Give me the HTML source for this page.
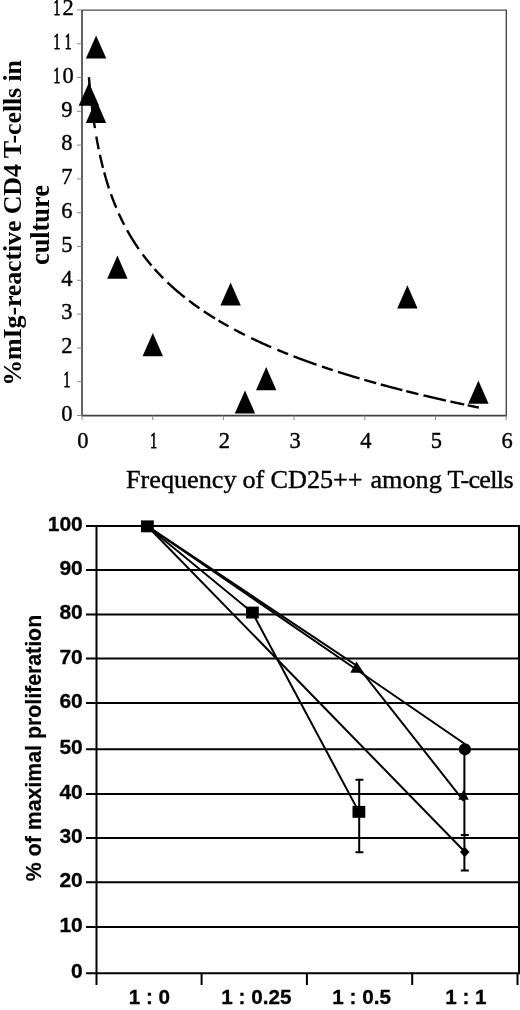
<!DOCTYPE html><html><head><meta charset="utf-8"><style>html,body{margin:0;padding:0;background:#fff;}svg{display:block;will-change:transform;}.s{font-family:"Liberation Serif",serif}.a{font-family:"Liberation Sans",sans-serif}</style></head><body>
<svg width="520" height="1010" viewBox="0 0 520 1010">
<rect width="520" height="1010" fill="#fff"/>
<path d="M82 10.1H506.3V415.5" fill="none" stroke="#4a4a4a" stroke-width="1.4"/>
<path d="M82 10.1V415.5" fill="none" stroke="#3c3c3c" stroke-width="1.6"/><path d="M81.2 415.7H506.9" fill="none" stroke="#404040" stroke-width="1.8"/>
<path d="M77 415.5H82 M77 381.7H82 M77 347.9H82 M77 314.1H82 M77 280.3H82 M77 246.5H82 M77 212.7H82 M77 178.9H82 M77 145.1H82 M77 111.3H82 M77 77.5H82 M77 43.7H82 M77 9.9H82 M82.0 415.5V420 M152.7 415.5V420 M223.4 415.5V420 M294.1 415.5V420 M364.8 415.5V420 M435.5 415.5V420 M506.2 415.5V420" stroke="#888" stroke-width="1" fill="none"/>
<text transform="translate(66.97,420.80) scale(1,1.07)" text-anchor="middle" class="s" font-size="22.5" stroke="#000" stroke-width="0.4">0</text>
<text transform="translate(66.97,387.00) scale(0.6,1.07)" text-anchor="middle" class="s" font-size="22.5" stroke="#000" stroke-width="0.9">1</text>
<text transform="translate(66.97,353.20) scale(1,1.07)" text-anchor="middle" class="s" font-size="22.5" stroke="#000" stroke-width="0.4">2</text>
<text transform="translate(66.97,319.40) scale(1,1.07)" text-anchor="middle" class="s" font-size="22.5" stroke="#000" stroke-width="0.4">3</text>
<text transform="translate(66.97,285.60) scale(1,1.07)" text-anchor="middle" class="s" font-size="22.5" stroke="#000" stroke-width="0.4">4</text>
<text transform="translate(66.97,251.80) scale(1,1.07)" text-anchor="middle" class="s" font-size="22.5" stroke="#000" stroke-width="0.4">5</text>
<text transform="translate(66.97,218.00) scale(1,1.07)" text-anchor="middle" class="s" font-size="22.5" stroke="#000" stroke-width="0.4">6</text>
<text transform="translate(66.97,184.20) scale(1,1.07)" text-anchor="middle" class="s" font-size="22.5" stroke="#000" stroke-width="0.4">7</text>
<text transform="translate(66.97,150.40) scale(1,1.07)" text-anchor="middle" class="s" font-size="22.5" stroke="#000" stroke-width="0.4">8</text>
<text transform="translate(66.97,116.60) scale(1,1.07)" text-anchor="middle" class="s" font-size="22.5" stroke="#000" stroke-width="0.4">9</text>
<text transform="translate(56.92,82.80) scale(0.6,1.07)" text-anchor="middle" class="s" font-size="22.5" stroke="#000" stroke-width="0.9">1</text>
<text transform="translate(68.17,82.80) scale(1,1.07)" text-anchor="middle" class="s" font-size="22.5" stroke="#000" stroke-width="0.4">0</text>
<text transform="translate(56.92,49.00) scale(0.6,1.07)" text-anchor="middle" class="s" font-size="22.5" stroke="#000" stroke-width="0.9">1</text>
<text transform="translate(68.17,49.00) scale(0.6,1.07)" text-anchor="middle" class="s" font-size="22.5" stroke="#000" stroke-width="0.9">1</text>
<text transform="translate(56.92,15.20) scale(0.6,1.07)" text-anchor="middle" class="s" font-size="22.5" stroke="#000" stroke-width="0.9">1</text>
<text transform="translate(68.17,15.20) scale(1,1.07)" text-anchor="middle" class="s" font-size="22.5" stroke="#000" stroke-width="0.4">2</text>
<text transform="translate(83.00,448.40) scale(1,1.07)" text-anchor="middle" class="s" font-size="22.5" stroke="#000" stroke-width="0.4">0</text>
<text transform="translate(153.70,448.40) scale(0.6,1.07)" text-anchor="middle" class="s" font-size="22.5" stroke="#000" stroke-width="0.9">1</text>
<text transform="translate(224.40,448.40) scale(1,1.07)" text-anchor="middle" class="s" font-size="22.5" stroke="#000" stroke-width="0.4">2</text>
<text transform="translate(295.10,448.40) scale(1,1.07)" text-anchor="middle" class="s" font-size="22.5" stroke="#000" stroke-width="0.4">3</text>
<text transform="translate(365.80,448.40) scale(1,1.07)" text-anchor="middle" class="s" font-size="22.5" stroke="#000" stroke-width="0.4">4</text>
<text transform="translate(436.50,448.40) scale(1,1.07)" text-anchor="middle" class="s" font-size="22.5" stroke="#000" stroke-width="0.4">5</text>
<text transform="translate(507.20,448.40) scale(1,1.07)" text-anchor="middle" class="s" font-size="22.5" stroke="#000" stroke-width="0.4">6</text>
<text x="126" y="487.5" class="s" font-size="26.2" letter-spacing="0" stroke="#000" stroke-width="0.4">Frequency</text>
<text x="242.5" y="487.5" class="s" font-size="26.2" letter-spacing="0" stroke="#000" stroke-width="0.4">of</text>
<text x="270.5" y="487.5" class="s" font-size="26.2" letter-spacing="0" stroke="#000" stroke-width="0.4">CD25++</text>
<text x="370.5" y="487.5" class="s" font-size="26.2" letter-spacing="0" stroke="#000" stroke-width="0.4">among</text>
<text x="447.5" y="487.5" class="s" font-size="26.2" letter-spacing="-0.7" stroke="#000" stroke-width="0.4">T-cells</text>
<text transform="translate(21,223) rotate(-90)" text-anchor="middle" class="s" font-weight="bold" font-size="26" letter-spacing="-0.14">%mIg-reactive CD4 T-cells in</text>
<text transform="translate(48.5,225.1) rotate(-90)" text-anchor="middle" class="s" font-weight="bold" font-size="26.3">culture</text>
<path d="M88.90 77.09L89.27 81.35L89.66 85.60L90.07 89.85L90.50 94.11L90.96 98.36L91.43 102.61L91.94 106.86L92.47 111.12L93.03 115.37L93.62 119.62L94.24 123.88L94.90 128.13M96.30 136.53L96.87 139.70L97.45 142.86L98.06 146.02L98.70 149.19M99.90 154.85L100.38 157.02L100.88 159.19L101.39 161.36L101.91 163.53L102.45 165.71L103.00 167.88M104.20 172.41L104.69 174.18L105.19 175.96L105.70 177.73L106.22 179.51L106.75 181.28L107.29 183.05L107.85 184.83L108.42 186.60L109.00 188.38M111.00 194.20L111.49 195.56L111.98 196.92L112.48 198.28L113.00 199.63L113.52 200.99L114.04 202.35L114.58 203.70L115.13 205.06L115.68 206.42L116.25 207.78M118.70 213.41L119.17 214.45L119.64 215.48L120.12 216.52L120.61 217.55L121.11 218.59L121.60 219.62L122.11 220.66L122.62 221.69L123.14 222.73L123.67 223.77L124.20 224.80M127.10 230.22L127.55 231.04L128.01 231.86L128.48 232.68L128.95 233.49L129.42 234.31L129.90 235.13L130.38 235.95L130.87 236.77L131.36 237.58L131.86 238.40L132.36 239.22L132.87 240.04L133.38 240.86L133.90 241.67L134.42 242.49L134.95 243.31L135.48 244.13L136.02 244.95L136.57 245.76L137.12 246.58L137.67 247.40L138.23 248.22L138.80 249.04M142.70 254.45L143.19 255.10L143.67 255.75L144.17 256.40L144.66 257.05L145.17 257.70L145.67 258.35L146.18 259.00L146.69 259.65L147.21 260.30L147.73 260.95L148.26 261.60L148.79 262.25L149.32 262.90L149.86 263.55L150.40 264.20L150.95 264.85L151.50 265.50M154.50 268.94L154.98 269.49L155.47 270.03L155.96 270.57L156.46 271.12L156.96 271.66L157.46 272.20L157.96 272.75L158.47 273.29L158.98 273.84L159.50 274.38L160.02 274.92L160.54 275.47L161.06 276.01L161.59 276.55L162.12 277.10L162.66 277.64L163.20 278.19M167.50 282.39L167.96 282.84L168.43 283.28L168.90 283.72L169.37 284.16L169.85 284.61L170.33 285.05L170.81 285.49L171.29 285.93L171.77 286.37L172.26 286.82L172.75 287.26L173.25 287.70L173.74 288.14L174.24 288.58L174.74 289.03L175.25 289.47L175.75 289.91L176.26 290.35L176.77 290.79L177.29 291.24L177.81 291.68L178.33 292.12L178.85 292.56L179.38 293.00L179.91 293.45L180.44 293.89L180.97 294.33L181.51 294.77L182.05 295.21L182.60 295.66L183.14 296.10L183.69 296.54L184.24 296.98L184.80 297.42M189.10 300.77L189.60 301.15L190.10 301.52L190.60 301.90L191.10 302.28L191.61 302.66L192.12 303.04L192.63 303.41L193.14 303.79L193.66 304.17L194.18 304.55L194.70 304.92L195.22 305.30L195.75 305.68L196.28 306.06L196.81 306.44L197.34 306.81L197.88 307.19L198.42 307.57L198.96 307.95L199.50 308.33M203.80 311.26L204.29 311.58L204.78 311.91L205.27 312.24L205.76 312.56L206.26 312.89L206.76 313.22L207.26 313.54L207.76 313.87L208.26 314.19L208.77 314.52L209.28 314.85L209.79 315.17L210.30 315.50L210.81 315.82L211.33 316.15L211.85 316.48L212.37 316.80L212.89 317.13L213.41 317.46L213.94 317.78L214.47 318.11L215.00 318.43M218.50 320.55L218.98 320.84L219.47 321.13L219.96 321.42L220.44 321.71L220.93 321.99L221.43 322.28L221.92 322.57L222.42 322.86L222.91 323.15L223.41 323.44L223.91 323.72L224.41 324.01L224.92 324.30L225.43 324.59L225.93 324.88L226.44 325.17L226.95 325.45L227.47 325.74L227.98 326.03L228.50 326.32M234.20 329.43L234.70 329.70L235.20 329.96L235.70 330.23L236.20 330.50L236.70 330.76L237.21 331.03L237.72 331.30L238.23 331.56L238.74 331.83L239.25 332.10L239.76 332.36L240.28 332.63L240.80 332.89L241.32 333.16L241.84 333.43L242.36 333.69L242.89 333.96L243.41 334.23L243.94 334.49L244.47 334.76L245.00 335.02M251.20 338.07L251.67 338.30L252.15 338.52L252.62 338.75L253.10 338.98L253.58 339.21L254.06 339.44L254.54 339.66L255.02 339.89L255.51 340.12L255.99 340.35L256.48 340.58L256.97 340.80L257.46 341.03L257.95 341.26L258.44 341.49L258.93 341.71L259.43 341.94L259.92 342.17L260.42 342.40L260.92 342.63L261.42 342.85L261.92 343.08L262.43 343.31L262.93 343.54L263.44 343.76L263.94 343.99L264.45 344.22L264.96 344.45L265.48 344.68L265.99 344.90L266.50 345.13L267.02 345.36L267.54 345.59L268.06 345.82L268.58 346.04L269.10 346.27L269.62 346.50L270.15 346.73L270.67 346.95L271.20 347.18M277.30 349.77L277.80 349.98L278.30 350.19L278.81 350.40L279.31 350.61L279.82 350.82L280.33 351.02L280.84 351.23L281.35 351.44L281.86 351.65L282.37 351.86L282.88 352.07L283.40 352.28L283.92 352.49L284.44 352.70L284.95 352.91L285.48 353.12L286.00 353.32L286.52 353.53L287.05 353.74L287.57 353.95L288.10 354.16M293.50 356.27L293.98 356.45L294.45 356.64L294.93 356.82L295.41 357.00L295.89 357.19L296.37 357.37L296.85 357.55L297.33 357.73L297.82 357.92L298.30 358.10L298.79 358.28L299.27 358.47L299.76 358.65L300.25 358.83L300.74 359.02L301.23 359.20L301.72 359.38L302.22 359.56L302.71 359.75L303.21 359.93L303.71 360.11L304.20 360.30L304.70 360.48L305.20 360.66L305.71 360.85L306.21 361.03L306.71 361.21L307.22 361.40L307.72 361.58L308.23 361.76L308.74 361.94L309.25 362.13L309.76 362.31L310.27 362.49L310.78 362.68L311.30 362.86L311.81 363.04L312.33 363.23L312.85 363.41L313.36 363.59L313.88 363.77L314.40 363.96L314.93 364.14L315.45 364.32L315.97 364.51L316.50 364.69M321.90 366.55L322.40 366.72L322.91 366.89L323.41 367.06L323.92 367.23L324.43 367.40L324.94 367.57L325.45 367.74L325.96 367.92L326.47 368.09L326.98 368.26L327.50 368.43L328.01 368.60L328.53 368.77L329.05 368.94L329.57 369.11L330.09 369.28L330.61 369.45L331.13 369.63L331.65 369.80L332.17 369.97L332.70 370.14M338.00 371.85L338.48 372.00L338.96 372.15L339.44 372.30L339.93 372.46L340.41 372.61L340.90 372.76L341.38 372.92L341.87 373.07L342.36 373.22L342.85 373.38L343.34 373.53L343.83 373.68L344.32 373.83L344.81 373.99L345.30 374.14L345.80 374.29L346.29 374.45L346.79 374.60L347.29 374.75L347.78 374.90L348.28 375.06L348.78 375.21L349.28 375.36L349.79 375.52L350.29 375.67L350.79 375.82L351.30 375.98L351.80 376.13L352.31 376.28L352.82 376.43L353.32 376.59L353.83 376.74L354.34 376.89L354.86 377.05L355.37 377.20L355.88 377.35L356.39 377.51L356.91 377.66L357.43 377.81L357.94 377.96L358.46 378.12L358.98 378.27L359.50 378.42M364.30 379.82L364.81 379.97L365.32 380.11L365.82 380.26L366.33 380.41L366.85 380.55L367.36 380.70L367.87 380.85L368.38 380.99L368.90 381.14L369.41 381.29L369.93 381.43L370.45 381.58L370.97 381.73L371.48 381.87L372.01 382.02L372.53 382.16L373.05 382.31L373.57 382.46L374.09 382.60L374.62 382.75L375.15 382.90L375.67 383.04L376.20 383.19M380.80 384.46L381.28 384.59L381.77 384.72L382.25 384.85L382.74 384.98L383.22 385.11L383.71 385.25L384.20 385.38L384.69 385.51L385.18 385.64L385.67 385.77L386.16 385.91L386.65 386.04L387.14 386.17L387.64 386.30L388.13 386.43L388.63 386.56L389.12 386.70L389.62 386.83L390.12 386.96L390.61 387.09L391.11 387.22L391.61 387.35L392.11 387.49L392.62 387.62L393.12 387.75L393.62 387.88L394.12 388.01L394.63 388.15L395.14 388.28L395.64 388.41L396.15 388.54L396.66 388.67L397.17 388.80L397.68 388.94L398.19 389.07L398.70 389.20L399.21 389.33L399.72 389.46L400.24 389.60L400.75 389.73L401.27 389.86L401.78 389.99L402.30 390.12M406.20 391.11L406.70 391.24L407.20 391.36L407.70 391.49L408.20 391.61L408.70 391.74L409.21 391.86L409.71 391.99L410.22 392.11L410.72 392.24L411.23 392.37L411.74 392.49L412.24 392.62L412.75 392.74L413.26 392.87L413.77 392.99L414.28 393.12L414.79 393.24L415.31 393.37L415.82 393.50L416.34 393.62L416.85 393.75L417.37 393.87L417.88 394.00L418.40 394.12M423.50 395.35L423.98 395.47L424.47 395.58L424.96 395.70L425.44 395.81L425.93 395.93L426.42 396.04L426.91 396.16L427.40 396.28L427.89 396.39L428.38 396.51L428.87 396.62L429.36 396.74L429.85 396.85L430.35 396.97L430.84 397.09L431.34 397.20L431.83 397.32L432.33 397.43L432.83 397.55L433.32 397.66L433.82 397.78L434.32 397.89L434.82 398.01L435.32 398.13L435.82 398.24L436.32 398.36L436.83 398.47L437.33 398.59L437.84 398.70L438.34 398.82L438.85 398.94L439.35 399.05L439.86 399.17L440.37 399.28L440.88 399.40L441.38 399.51L441.89 399.63L442.41 399.75L442.92 399.86L443.43 399.98L443.94 400.09L444.45 400.21L444.97 400.32L445.48 400.44L446.00 400.55M450.40 401.53L450.90 401.65L451.40 401.76L451.91 401.87L452.41 401.98L452.92 402.09L453.42 402.20L453.93 402.31L454.44 402.42L454.94 402.53L455.45 402.65L455.96 402.76L456.47 402.87L456.98 402.98L457.49 403.09L458.00 403.20L458.52 403.31L459.03 403.42L459.54 403.53L460.06 403.65L460.57 403.76L461.09 403.87L461.61 403.98L462.12 404.09L462.64 404.20L463.16 404.31L463.68 404.42L464.20 404.53M467.70 405.28L468.20 405.38L468.70 405.49L469.20 405.59L469.69 405.70L470.20 405.80L470.70 405.91L471.20 406.01L471.70 406.12L472.20 406.22L472.71 406.33L473.21 406.43L473.72 406.54L474.22 406.65L474.73 406.75L475.23 406.86L475.74 406.96L476.25 407.07L476.76 407.17L477.27 407.28L477.78 407.38L478.29 407.49L478.80 407.59" fill="none" stroke="#000" stroke-width="2.4"/>
<path d="M96.1 35.4L106.3 58.6H85.9Z" fill="#000"/>
<path d="M88.9 82.5L99.1 105.7H78.7Z" fill="#000"/>
<path d="M96.0 99.8L106.2 123.0H85.8Z" fill="#000"/>
<path d="M117.4 255.5L127.6 278.7H107.2Z" fill="#000"/>
<path d="M152.8 333.0L163.0 356.2H142.6Z" fill="#000"/>
<path d="M230.6 282.4L240.8 305.6H220.4Z" fill="#000"/>
<path d="M245.0 390.4L255.2 413.6H234.8Z" fill="#000"/>
<path d="M266.2 367.0L276.4 390.2H256.0Z" fill="#000"/>
<path d="M407.4 285.3L417.6 308.5H397.2Z" fill="#000"/>
<path d="M478.4 380.6L488.6 403.8H468.2Z" fill="#000"/>
<path d="M86 526.1H519 M86 570.1H519 M86 614.4H519 M86 658.6H519 M86 703.1H519 M86 749.3H519 M86 794.0H519 M86 838.1H519 M86 882.3H519 M86 927.1H519 M86 973.3H519" stroke="#000" stroke-width="2" fill="none"/>
<path d="M96.5 526.1V985M519 525.1V974.3" stroke="#000" stroke-width="2" fill="none"/>
<path d="M201.6 973.3V985 M306.9 973.3V985 M412.2 973.3V985 M517.5 973.3V985" stroke="#000" stroke-width="2" fill="none"/>
<text x="82.8" y="531.1" text-anchor="end" class="a" font-weight="bold" font-size="21" stroke="#000" stroke-width="0.3">100</text>
<text x="82.8" y="575.1" text-anchor="end" class="a" font-weight="bold" font-size="21" stroke="#000" stroke-width="0.3">90</text>
<text x="82.8" y="619.4" text-anchor="end" class="a" font-weight="bold" font-size="21" stroke="#000" stroke-width="0.3">80</text>
<text x="82.8" y="663.6" text-anchor="end" class="a" font-weight="bold" font-size="21" stroke="#000" stroke-width="0.3">70</text>
<text x="82.8" y="708.1" text-anchor="end" class="a" font-weight="bold" font-size="21" stroke="#000" stroke-width="0.3">60</text>
<text x="82.8" y="754.3" text-anchor="end" class="a" font-weight="bold" font-size="21" stroke="#000" stroke-width="0.3">50</text>
<text x="82.8" y="799.0" text-anchor="end" class="a" font-weight="bold" font-size="21" stroke="#000" stroke-width="0.3">40</text>
<text x="82.8" y="843.1" text-anchor="end" class="a" font-weight="bold" font-size="21" stroke="#000" stroke-width="0.3">30</text>
<text x="82.8" y="887.3" text-anchor="end" class="a" font-weight="bold" font-size="21" stroke="#000" stroke-width="0.3">20</text>
<text x="82.8" y="932.1" text-anchor="end" class="a" font-weight="bold" font-size="21" stroke="#000" stroke-width="0.3">10</text>
<text x="82.8" y="978.3" text-anchor="end" class="a" font-weight="bold" font-size="21" stroke="#000" stroke-width="0.3">0</text>
<text x="149.4" y="1003.5" text-anchor="middle" class="a" font-weight="bold" font-size="20.7" stroke="#000" stroke-width="0.3">1 : 0</text>
<text x="256.4" y="1003.5" text-anchor="middle" class="a" font-weight="bold" font-size="20.7" stroke="#000" stroke-width="0.3">1 : 0.25</text>
<text x="361.6" y="1003.5" text-anchor="middle" class="a" font-weight="bold" font-size="20.7" stroke="#000" stroke-width="0.3">1 : 0.5</text>
<text x="465.9" y="1003.5" text-anchor="middle" class="a" font-weight="bold" font-size="20.7" stroke="#000" stroke-width="0.3">1 : 1</text>
<text transform="translate(41.2,748) rotate(-90)" text-anchor="middle" class="a" font-weight="bold" font-size="21.3" stroke="#000" stroke-width="0.2">% of maximal proliferation</text>
<polyline points="147.4,526.2 252.4,612.6 358.9,811.9" fill="none" stroke="#000" stroke-width="2"/>
<polyline points="147.4,526.2 357.5,666.2 463.6,800.8" fill="none" stroke="#000" stroke-width="2"/>
<polyline points="147.4,526.2 357.5,670.2 464.9,744.0" fill="none" stroke="#000" stroke-width="2"/>
<polyline points="147.4,526.2 465,852" fill="none" stroke="#000" stroke-width="2"/>
<path d="M359.2 779.8V852.3M355.4 779.8H363.4M355.4 852.3H363.4" stroke="#000" stroke-width="2" fill="none"/>
<path d="M464.4 754V870.4M460.8 835H468.8M460.8 870.4H468.8" stroke="#000" stroke-width="2" fill="none"/>
<rect x="141.0" y="520.4" width="12.8" height="11.9" fill="#000"/>
<rect x="246.0" y="606.6" width="12.8" height="11.9" fill="#000"/>
<rect x="352.5" y="805.9" width="12.8" height="11.9" fill="#000"/>
<path d="M356.4 661.5L363.8 672.7H350.3Z" fill="#000"/>
<path d="M463.6 789.7L468.8 799.8H458.3Z" fill="#000"/>
<circle cx="464.9" cy="749.3" r="6.1" fill="#000"/>
<path d="M464.7 846.8L469.5 852L464.7 857.2L459.9 852Z" fill="#000"/>
</svg></body></html>
